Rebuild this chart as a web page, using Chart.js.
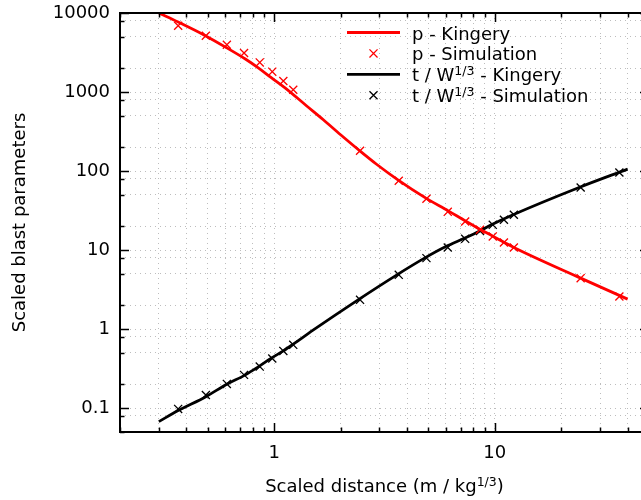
<!DOCTYPE html>
<html>
<head>
<meta charset="utf-8">
<script src="https://cdn.jsdelivr.net/npm/chart.js@4.4.0/dist/chart.umd.min.js"></script>
<style>
  html, body { margin: 0; padding: 0; background: #fff; overflow: hidden; }
  canvas { display: block; }
</style>
</head>
<body>
<canvas id="grafico" width="660" height="500"></canvas>
<script>
// Kingery reference curves
const pKingX = [0.3, 0.367, 0.49, 0.61, 0.74, 0.85, 0.97, 1.12, 1.4, 1.67, 2.0, 2.44, 2.91, 3.65, 4.87, 6.15, 7.33, 8.55, 9.8, 11.0, 12.2, 24.5, 40]
const pKingY = [10000, 7690, 5130, 3620, 2620, 2010, 1520, 1130, 671, 446, 288, 181, 122, 76.9, 45.5, 31.4, 23.5, 18.4, 15.0, 12.6, 10.8, 4.42, 2.4]
const tKingX = [0.3, 0.367, 0.49, 0.61, 0.74, 0.85, 0.97, 1.1, 1.22, 1.5, 2.4, 3.6, 4.8, 6.0, 7.3, 8.55, 9.65, 12.1, 24.1, 40]
const tKingY = [0.0677, 0.0933, 0.140, 0.201, 0.264, 0.336, 0.43, 0.531, 0.646, 0.97, 2.35, 4.87, 7.92, 11.1, 14.2, 17.5, 20.9, 28, 62, 106]

// simulation results
const simX = [0.367, 0.49, 0.61, 0.73, 0.86, 0.98, 1.10, 1.22, 2.45, 3.67, 4.90, 6.12, 7.34, 8.57, 9.79, 11.0, 12.2, 24.5, 36.7]
const pSim = [6900, 5160, 3970, 3120, 2370, 1810, 1380, 1070, 181, 75.4, 44.6, 30.5, 23.0, 18.1, 14.9, 12.5, 10.8, 4.42, 2.59]
const tSim = [0.098, 0.147, 0.203, 0.264, 0.336, 0.425, 0.531, 0.633, 2.35, 4.87, 7.92, 10.8, 13.9, 17.5, 20.9, 24.2, 28.0, 62, 96]

// axes
const xTicks = [0.2, 0.3, 0.4, 0.5, 0.6, 0.7, 0.8, 0.9, 1, 2, 3, 4, 5, 6, 7, 8, 9, 10, 20, 30, 40, 50]
const xMajor = [1, 10]
const xMajorLabels = ['1', '10']
const yTicks = [0.05, 0.08, 0.1, 0.2, 0.5, 0.8, 1, 2, 5, 8, 10, 20, 50, 80, 100, 200, 500, 800, 1000, 2000, 5000, 8000, 10000]
const yMajor = [0.1, 1, 10, 100, 1000, 10000]
const yMajorLabels = ['0.1', '1', '10', '100', '1000', '10000']

// texts with superscripts: [normal, superscript, normal]
const xTitle = ['Scaled distance (m / kg', '1/3', ')']
const yTitle = 'Scaled blast parameters'
const legendText = [
    ['p - Kingery'],
    ['p - Simulation'],
    ['t / W', '1/3', ' - Kingery'],
    ['t / W', '1/3', ' - Simulation'],
]

const fontName = 'DejaVu Sans'
const textSize = 18
const supSize = 12.5

function pares(xs, ys) {
    let out = []
    for (let i = 0; i < xs.length; i++) {
        out.push({ x: xs[i], y: ys[i] })
    }
    return out
}

function drawRich(ctx, parts, x, y, align) {
    let widths = parts.map((t, i) => {
        ctx.font = (i % 2 ? supSize : textSize) + 'px "' + fontName + '"'
        return ctx.measureText(t).width
    })
    let total = widths.reduce((a, b) => a + b, 0)
    let cx = align === 'center' ? x - total / 2 : x
    ctx.textAlign = 'left'
    ctx.textBaseline = 'alphabetic'
    parts.forEach((t, i) => {
        ctx.font = (i % 2 ? supSize : textSize) + 'px "' + fontName + '"'
        ctx.fillText(t, cx, i % 2 ? y - 6 : y)
        cx += widths[i]
    })
}

// gnuplot-like frame with inward ticks, key and x title
const framePlugin = {
    id: 'frame',
    afterDatasetsDraw(chart) {
        const ctx = chart.ctx
        const a = chart.chartArea
        const xs = chart.scales.x
        const ys = chart.scales.y
        ctx.save()
        ctx.strokeStyle = '#000'
        ctx.lineWidth = 1.5
        ctx.beginPath()
        xTicks.forEach(v => {
            const px = Math.round(xs.getPixelForValue(v)) + 0.5
            const len = xMajor.includes(v) ? 9 : 4.5
            ctx.moveTo(px, a.bottom); ctx.lineTo(px, a.bottom - len)
            ctx.moveTo(px, a.top); ctx.lineTo(px, a.top + len)
        })
        yTicks.forEach(v => {
            const py = Math.round(ys.getPixelForValue(v)) + 0.5
            const len = yMajor.includes(v) ? 9 : 4.5
            ctx.moveTo(a.left, py); ctx.lineTo(a.left + len, py)
            ctx.moveTo(a.right, py); ctx.lineTo(a.right - len, py)
        })
        ctx.stroke()
        ctx.lineWidth = 2
        ctx.strokeRect(a.left, a.top, a.right - a.left, a.bottom - a.top)
        ctx.restore()
    },
    afterDraw(chart) {
        const ctx = chart.ctx
        const a = chart.chartArea
        ctx.save()
        ctx.fillStyle = '#000'
        drawRich(ctx, xTitle, (a.left + a.right) / 2, 491.5, 'center')

        // key
        chart.data.datasets.forEach((ds, i) => {
            const rowY = a.top + 19.5 + i * 20.9
            const lx = a.left + 227
            if (ds.showLine) {
                ctx.strokeStyle = ds.borderColor
                ctx.lineWidth = ds.borderWidth
                ctx.beginPath()
                ctx.moveTo(lx, rowY)
                ctx.lineTo(lx + 53, rowY)
                ctx.stroke()
            } else {
                ctx.strokeStyle = ds.pointBorderColor
                ctx.fillStyle = ds.pointBorderColor
                ctx.lineWidth = ds.pointBorderWidth
                Chart.helpers.drawPoint(ctx, { pointStyle: 'crossRot', radius: ds.pointRadius, borderWidth: ds.pointBorderWidth }, lx + 26.5, rowY)
            }
            ctx.fillStyle = '#000'
            drawRich(ctx, legendText[i], lx + 65, rowY + 7, 'left')
        })
        ctx.restore()
    }
}

const data = {
    datasets: [
        {
            label: 'p - Kingery',
            data: pares(pKingX, pKingY),
            showLine: true,
            borderColor: '#ff0000',
            borderWidth: 2.8,
            pointRadius: 0,
            cubicInterpolationMode: 'monotone',
        },
        {
            label: 'p - Simulation',
            data: pares(simX, pSim),
            showLine: false,
            pointStyle: 'crossRot',
            pointRadius: 5.7,
            pointBorderWidth: 1.3,
            pointBorderColor: '#ff0000',
            pointBackgroundColor: '#ff0000',
        },
        {
            label: 't / W^1/3 - Kingery',
            data: pares(tKingX, tKingY),
            showLine: true,
            borderColor: '#000000',
            borderWidth: 2.8,
            pointRadius: 0,
            cubicInterpolationMode: 'monotone',
        },
        {
            label: 't / W^1/3 - Simulation',
            data: pares(simX, tSim),
            showLine: false,
            pointStyle: 'crossRot',
            pointRadius: 5.7,
            pointBorderWidth: 1.3,
            pointBorderColor: '#000000',
            pointBackgroundColor: '#000000',
        },
    ],
}

const config = {
    type: 'scatter',
    data,
    options: {
        responsive: false,
        animation: false,
        layout: { padding: { top: 13, right: 11, left: 0, bottom: 0 } },
        plugins: {
            legend: { display: false },
            tooltip: { enabled: false },
        },
        scales: {
            x: {
                type: 'logarithmic',
                min: 0.2,
                max: 50,
                afterBuildTicks: (scale) => {
                    scale.ticks = xTicks.map(v => ({ value: v }))
                },
                afterFit: (scale) => {
                    scale.height = 68
                    scale.paddingLeft = 0
                    scale.paddingRight = 0
                },
                grid: { color: '#bdbdbd', lineWidth: 1, drawTicks: false },
                border: { display: false, dash: [1, 4] },
                ticks: {
                    autoSkip: false,
                    maxRotation: 0,
                    padding: 11,
                    color: '#000',
                    font: { family: fontName, size: textSize },
                    callback: (value) => {
                        const i = xMajor.indexOf(value)
                        return i >= 0 ? xMajorLabels[i] : ''
                    },
                },
            },
            y: {
                type: 'logarithmic',
                min: 0.05,
                max: 10000,
                afterBuildTicks: (scale) => {
                    scale.ticks = yTicks.map(v => ({ value: v }))
                },
                afterFit: (scale) => {
                    scale.width = 120
                    scale.paddingTop = 0
                    scale.paddingBottom = 0
                },
                grid: { color: '#bdbdbd', lineWidth: 1, drawTicks: false },
                border: { display: false, dash: [1, 4] },
                title: {
                    display: true,
                    text: yTitle,
                    color: '#000',
                    font: { family: fontName, size: textSize },
                    padding: { top: 10, bottom: 0 },
                },
                ticks: {
                    autoSkip: false,
                    padding: 10,
                    color: '#000',
                    font: { family: fontName, size: textSize },
                    callback: (value) => {
                        const i = yMajor.indexOf(value)
                        return i >= 0 ? yMajorLabels[i] : ''
                    },
                },
            },
        },
    },
    plugins: [framePlugin],
}

const myChart = new Chart(
    document.getElementById('grafico').getContext('2d'),
    config
)
</script>
</body>
</html>
